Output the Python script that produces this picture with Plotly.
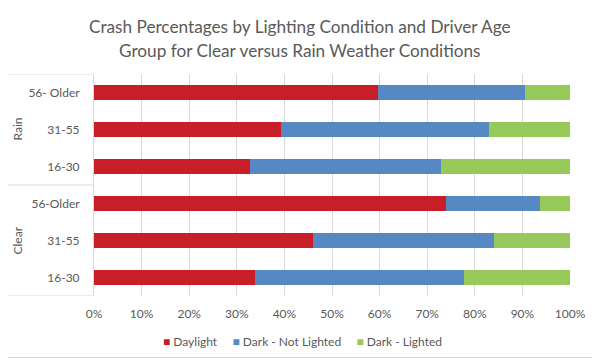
import plotly.graph_objects as go

# ---- data ----
groups = ["Clear", "Clear", "Clear", "Rain", "Rain", "Rain"]
age_labels = ["16-30", "31-55", "56-Older", "16-30", "31-55", "56- Older"]
daylight = [33.9, 46.1, 74.0, 32.7, 39.3, 59.7]
dark_not_lighted = [43.9, 38.0, 19.6, 40.3, 43.7, 30.9]
dark_lighted = [22.2, 15.9, 6.4, 27.0, 17.0, 9.4]
series_names = ["Daylight", "Dark - Not Lighted", "Dark - Lighted"]
series_colors = ["#C81E28", "#5689C3", "#97C95A"]
x_ticks = [0, 10, 20, 30, 40, 50, 60, 70, 80, 90, 100]
x_tick_labels = [f"{v}%" for v in x_ticks]

# page body has an 8px default margin, so the figure is laid out in page
# coordinates minus that offset
OFF = 8
W, H = 600 - OFF, 360 - OFF
ML, MT = 94 - OFF, 74 - OFF
PW, PH = 476, 222
MR = W - ML - PW
MB = H - MT - PH

ypos = list(range(len(age_labels)))
FONT = "Lato, 'Open Sans', sans-serif"
grey = "#595959"

def px_x(page_x):
    return (page_x - OFF - ML) / PW

def px_y(page_y):
    return 1 - (page_y - OFF - MT) / PH

fig = go.Figure()
for name, vals, col in zip(series_names, [daylight, dark_not_lighted, dark_lighted], series_colors):
    fig.add_trace(go.Bar(
        y=ypos, x=vals, name=name, orientation="h",
        marker=dict(color=col, line=dict(width=0)),
        width=0.4, showlegend=False,
    ))

fig.update_layout(
    width=W, height=H,
    barmode="stack",
    margin=dict(l=ML, r=MR, t=MT, b=MB, autoexpand=False),
    paper_bgcolor="white", plot_bgcolor="white",
    font=dict(family=FONT, color=grey, size=12),
    xaxis=dict(
        range=[0, 100], tickvals=x_ticks, ticktext=x_tick_labels,
        showgrid=True, gridcolor="#D9D9D9", gridwidth=1,
        zeroline=False, showline=False, ticks="",
        tickfont=dict(size=12, color=grey),
        ticklabelstandoff=9, automargin=False,
    ),
    yaxis=dict(
        range=[-0.5, len(age_labels) - 0.5],
        tickvals=ypos, ticktext=age_labels,
        showgrid=False, zeroline=False,
        showline=True, linecolor="#D9D9D9", linewidth=1,
        ticks="", tickfont=dict(size=12, color=grey),
        ticklabelstandoff=11, automargin=False,
    ),
    showlegend=False,
)

# title (two centred lines)
title_lines = ["Crash Percentages by Lighting Condition and Driver Age",
               "Group for Clear versus Rain Weather Conditions"]
for line, py in zip(title_lines, [27, 50]):
    fig.add_annotation(
        x=px_x(300), xref="paper", y=px_y(py), yref="paper",
        text=line, showarrow=False, xanchor="center", yanchor="middle",
        font=dict(size=17.2, color=grey, family=FONT),
    )

# legend drawn as one centred text line built from the series arrays
legend_text = "     ".join(
    f'<span style="color:{c}">■</span> {n}' for n, c in zip(series_names, series_colors)
)
fig.add_annotation(
    x=px_x(302), xref="paper", y=px_y(341), yref="paper",
    text=legend_text, showarrow=False, xanchor="center", yanchor="middle",
    font=dict(size=12, color=grey, family=FONT),
)

# category group box lines and group labels
box_left = px_x(8)
unique_groups = []
for g in groups:
    if g not in unique_groups:
        unique_groups.append(g)
boundaries = [-0.5]
for g in unique_groups:
    idx = [i for i, gg in enumerate(groups) if gg == g]
    boundaries.append(max(idx) + 0.5)
    fig.add_annotation(
        x=px_x(17), xref="paper", y=(min(idx) + max(idx)) / 2, yref="y",
        text=g, textangle=-90, showarrow=False,
        font=dict(size=12, color=grey), xanchor="center", yanchor="middle",
    )
for b in boundaries:
    fig.add_shape(type="line", xref="paper", yref="y",
                  x0=box_left, x1=0, y0=b, y1=b,
                  line=dict(color="#D9D9D9", width=1))

# outer chart border (right and bottom edges are inside the figure)
fig.add_shape(type="line", xref="paper", yref="paper",
              x0=px_x(596.5), x1=px_x(596.5), y0=px_y(0), y1=px_y(357.5),
              line=dict(color="#D9D9D9", width=1))
fig.add_shape(type="line", xref="paper", yref="paper",
              x0=px_x(0), x1=px_x(596.5), y0=px_y(357.5), y1=px_y(357.5),
              line=dict(color="#D9D9D9", width=1))

fig.write_html("out.html")
